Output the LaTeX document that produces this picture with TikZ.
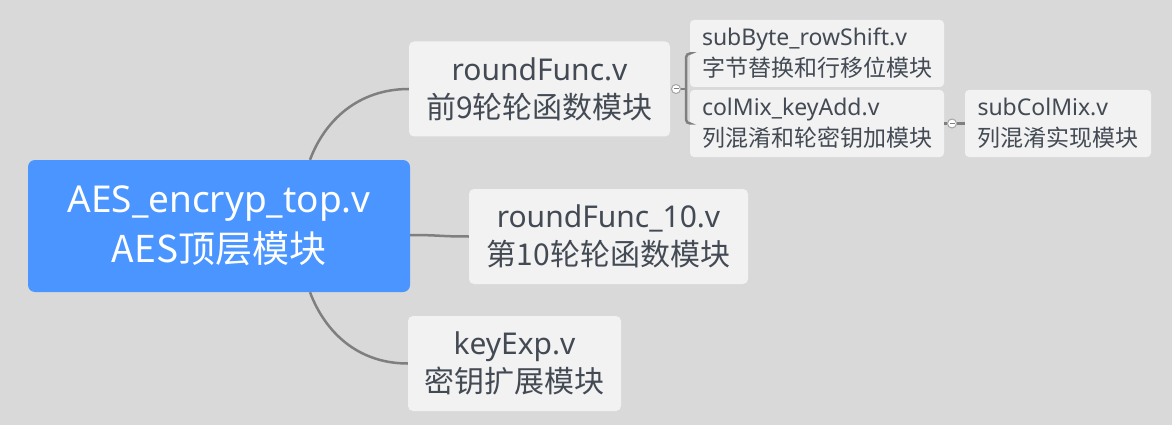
\documentclass[tikz,border=0pt]{standalone}
\usepackage{fontspec}
\setmainfont{Noto Sans}
\newfontfamily\cjk{Noto Sans CJK SC}
\definecolor{bg}{HTML}{D9D9D9}
\definecolor{rootblue}{HTML}{4A95FF}
\definecolor{boxgray}{HTML}{F2F2F2}
\definecolor{ink}{HTML}{434A54}
\definecolor{wire}{HTML}{7F7F7F}

\begin{document}
\begin{tikzpicture}[x=1pt, y=-1pt,
  topic/.style={fill=rootblue, text=white, rounded corners=7pt, minimum width=382pt,
    minimum height=132pt, align=center, font=\fontsize{37}{50}\selectfont},
  sub/.style={fill=boxgray, text=ink, rounded corners=5pt, minimum height=95pt,
    align=center, font=\fontsize{30}{38}\selectfont},
  leaf/.style={fill=boxgray, text=ink, rounded corners=4pt, minimum height=67pt,
    align=left, font=\fontsize{23}{31}\selectfont},
  link/.style={draw=wire, line width=2.5pt},
  fold/.style={circle, draw=wire!70, fill=white, line width=1pt, inner sep=0pt, minimum size=9pt}]

  \fill[bg] (0,0) rectangle (1172,425);

  \node[topic] (top) at (219,226) {AES\_encryp\_top.v\\{\cjk AES顶层模块}};
  \node[sub, minimum width=261pt] (rf) at (539.5,89) {roundFunc.v\\{\cjk 前9轮轮函数模块}};
  \node[sub, minimum width=279pt] (rften) at (608.5,236.5) {roundFunc\_10.v\\{\cjk 第10轮轮函数模块}};
  \node[sub, minimum width=213pt] (kexp) at (514.5,363.5) {keyExp.v\\{\cjk 密钥扩展模块}};
  \node[leaf, minimum width=254pt] (sbrs) at (817,53.5) {subByte\_rowShift.v\\{\cjk 字节替换和行移位模块}};
  \node[leaf, minimum width=254pt] (cmka) at (817,123.5) {colMix\_keyAdd.v\\{\cjk 列混淆和轮密钥加模块}};
  \node[leaf, minimum width=186pt] (scm) at (1058,123.5) {subColMix.v\\{\cjk 列混淆实现模块}};

  % branches from the root
  \draw[link] ([xshift=91pt]top.north) .. controls +(15,-40) and +(-50,0) .. (rf.west);
  \draw[link] ([yshift=-9pt]top.east) .. controls +(30,0) and +(-30,0) .. (rften.west);
  \draw[link] ([xshift=91pt]top.south) .. controls +(15,40) and +(-50,0) .. (kexp.west);

  % fold markers and bracket
  \coordinate (brk) at (686,89);
  \node[fold] (fa) at (676,89) {};
  \node[fold] (fb) at (952,123.5) {};
  \draw[link] (fa) -- (brk);
  \draw[link, rounded corners=4pt] (sbrs.west) -| (brk) |- (cmka.west);
  \draw[link] (cmka.east) -- (fb);
  \draw[link] (fb) -- (scm.west);
  \foreach \f in {fa,fb}
    \draw[wire, line width=1pt] ([xshift=-2.5pt]\f.center) -- ([xshift=2.5pt]\f.center);
\end{tikzpicture}
\end{document}
